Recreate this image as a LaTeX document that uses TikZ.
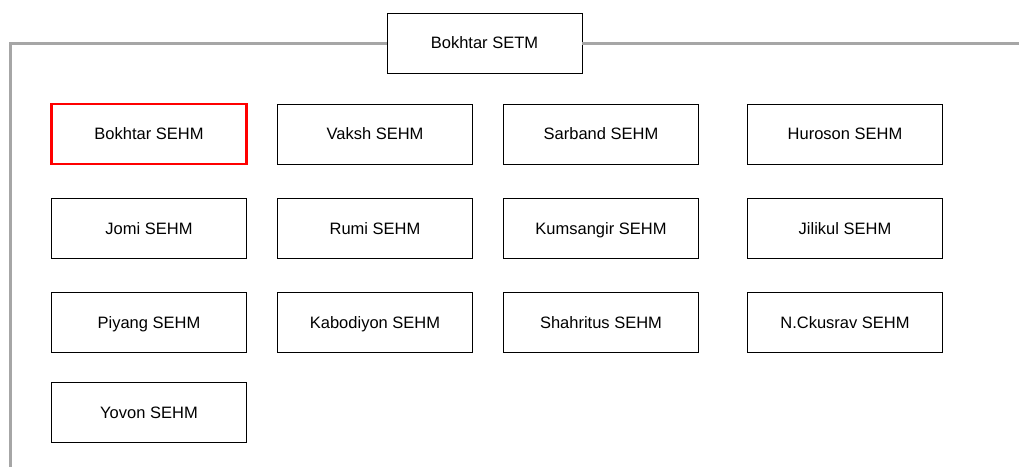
\documentclass[tikz,border=0pt]{standalone}
\usepackage{fontspec}
\setmainfont{Liberation Sans}
\definecolor{linkgray}{HTML}{A6A6A6}
\definecolor{alertred}{HTML}{FF0000}
\begin{document}
\begin{tikzpicture}[x=1pt,y=-1pt,
  unit/.style={draw=black,line width=0.9pt,fill=white,minimum width=195pt,minimum height=60pt,
    inner sep=0pt,text height=11.8pt,text depth=0pt,font=\fontsize{16.5}{19}\selectfont},
  head/.style={unit},
  current/.style={unit,draw=alertred,line width=2.6pt},
  link/.style={draw=linkgray,line width=3pt}]
\useasboundingbox (0,0) rectangle (1019,466);
% head office
\node[head] (top) at (484.5,43) {Bokhtar SETM};
\coordinate (lt) at (10,43);
\coordinate (lb) at (10,467);
\coordinate (re) at (1019,43);
\draw[link] (top.west) -- (lt) -- (lb);
\draw[link] (top.east) -- (re);
% branch offices
\node[current] (b1) at (149,134) {Bokhtar SEHM};
\node[unit] (b2) at (375,134) {Vaksh SEHM};
\node[unit] (b3) at (601,134) {Sarband SEHM};
\node[unit] (b4) at (845,134) {Huroson SEHM};
\node[unit] (b5) at (149,228.5) {Jomi SEHM};
\node[unit] (b6) at (375,228.5) {Rumi SEHM};
\node[unit] (b7) at (601,228.5) {Kumsangir SEHM};
\node[unit] (b8) at (845,228.5) {Jilikul SEHM};
\node[unit] (b9) at (149,322.5) {Piyang SEHM};
\node[unit] (b10) at (375,322.5) {Kabodiyon SEHM};
\node[unit] (b11) at (601,322.5) {Shahritus SEHM};
\node[unit] (b12) at (845,322.5) {N.Ckusrav SEHM};
\node[unit] (b13) at (149,412.5) {Yovon SEHM};
\end{tikzpicture}
\end{document}
